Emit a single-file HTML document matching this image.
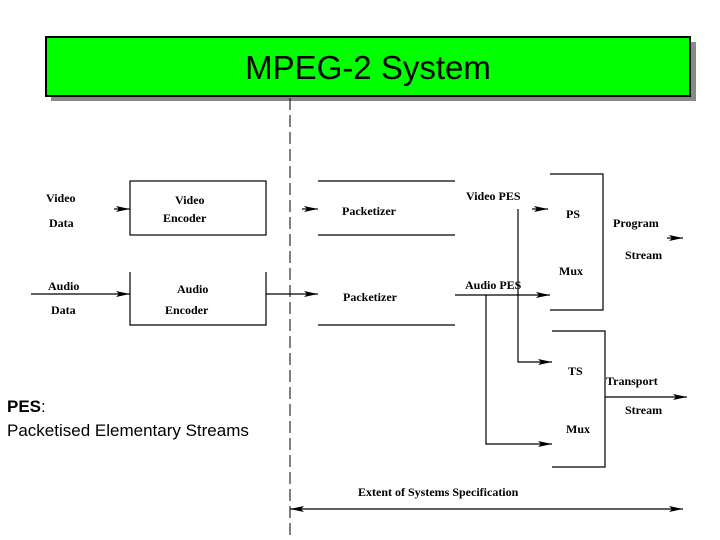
<!DOCTYPE html>
<html><head><meta charset="utf-8"><style>
body{margin:0;width:720px;height:540px;background:#fff;overflow:hidden}
svg{display:block}
.b{font-family:"Liberation Serif",serif;font-weight:bold;font-size:12px;fill:#000}
</style></head><body>
<svg width="720" height="540" viewBox="0 0 720 540" xmlns="http://www.w3.org/2000/svg">
<defs>
<marker id="a" markerWidth="14" markerHeight="8" refX="14" refY="4" orient="auto" markerUnits="userSpaceOnUse">
<path d="M0,1 L14,4 L0,7 L3,4 Z" fill="#000"/></marker>
<marker id="s" markerWidth="14" markerHeight="8" refX="0" refY="4" orient="auto" markerUnits="userSpaceOnUse">
<path d="M14,1 L0,4 L14,7 L11,4 Z" fill="#000"/></marker>
</defs>
<rect x="51" y="42" width="645" height="59" fill="#888"/>
<rect x="46" y="37" width="644" height="59" fill="#00ff00" stroke="#000" stroke-width="2"/>
<text x="368" y="79" text-anchor="middle" font-family="Liberation Sans,sans-serif" font-size="33" fill="#000">MPEG-2 System</text>
<line x1="290" y1="98" x2="290" y2="540" stroke="#000" stroke-dasharray="12,5"/>
<g stroke="#000" stroke-width="1.2" fill="none">
<rect x="130" y="181" width="136" height="54"/>
<path d="M130,272 V325 H266 V272"/>
<path d="M318,181 H455 M318,235 H455 M318,325 H455"/>
<path d="M550,174 H603 V310 H550"/>
<path d="M552,331 H605 V467 H552"/>
</g>
<g stroke="#000" stroke-width="1.2">
<line x1="114" y1="209" x2="130" y2="209" marker-end="url(#a)"/>
<line x1="31" y1="294" x2="130" y2="294" marker-end="url(#a)"/>
<line x1="266" y1="294" x2="318" y2="294" marker-end="url(#a)"/>
<line x1="302" y1="209" x2="318" y2="209" marker-end="url(#a)"/>
<line x1="532" y1="209" x2="548" y2="209" marker-end="url(#a)"/>
<line x1="455" y1="295" x2="550" y2="295" marker-end="url(#a)"/>
<polyline points="518,209 518,362 552,362" fill="none" marker-end="url(#a)"/>
<polyline points="486,295 486,444 552,444" fill="none" marker-end="url(#a)"/>
<line x1="667" y1="238" x2="683" y2="238" marker-end="url(#a)"/>
<line x1="605" y1="397" x2="687" y2="397" marker-end="url(#a)"/>
<line x1="290" y1="509" x2="683" y2="509" marker-start="url(#s)" marker-end="url(#a)"/>
</g>
<g class="b">
<text x="46" y="202">Video</text><text x="49" y="227">Data</text>
<text x="48" y="290">Audio</text><text x="51" y="314">Data</text>
<text x="175" y="204">Video</text><text x="163" y="222">Encoder</text>
<text x="177" y="293">Audio</text><text x="165" y="314">Encoder</text>
<text x="342" y="215">Packetizer</text><text x="343" y="301">Packetizer</text>
<text x="466" y="200">Video PES</text><text x="465" y="289">Audio PES</text>
<text x="566" y="218">PS</text><text x="559" y="275">Mux</text>
<text x="613" y="227">Program</text><text x="625" y="259">Stream</text>
<text x="568" y="375">TS</text><text x="566" y="433">Mux</text>
<text x="606" y="385">Transport</text><text x="625" y="414">Stream</text>
<text x="358" y="496">Extent of Systems Specification</text>
</g>
<text x="7" y="412" font-family="Liberation Sans,sans-serif" font-size="17" fill="#000"><tspan font-weight="bold">PES</tspan>:</text>
<text x="7" y="436" font-family="Liberation Sans,sans-serif" font-size="17" fill="#000">Packetised Elementary Streams</text>
</svg>
</body></html>
